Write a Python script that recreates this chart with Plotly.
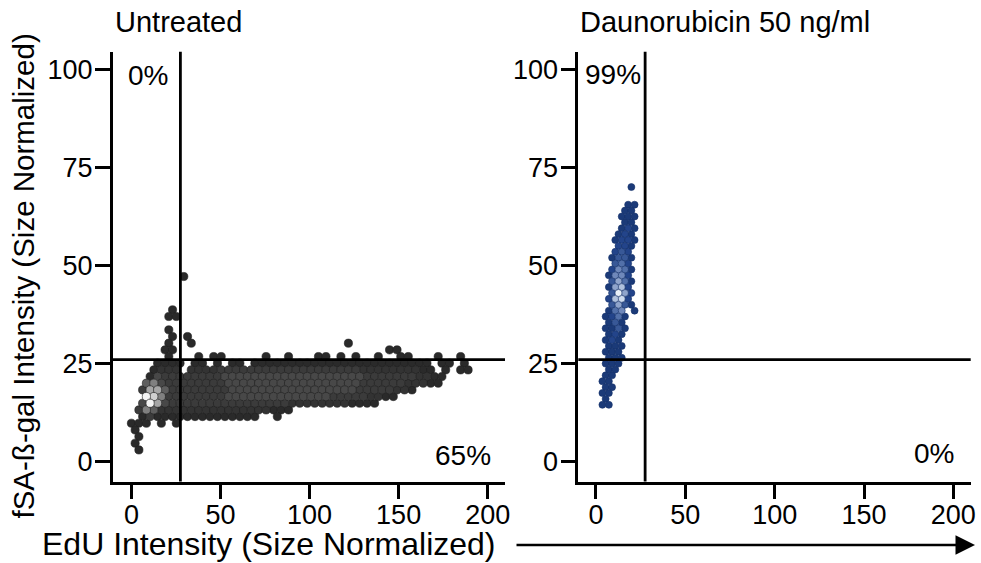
import plotly.graph_objects as go

# ---------------- data ----------------
x_ticks = [0, 50, 100, 150, 200]
y_ticks = [0, 25, 50, 75, 100]
panel_titles = ["Untreated", "Daunorubicin 50 ng/ml"]
x_title = "EdU Intensity (Size Normalized)"
y_title = "fSA-ß-gal Intensity (Size Normalized)"
edu_threshold = 27.5
sabgal_threshold = 26
untreated_pct = ["0%", "65%"]      # upper-left, lower-right quadrant
dauno_pct = ["99%", "0%"]

# hexbin geometry (bin width, row height, first column x, first row y)
untreated_bins = [4.2, 1.7, 0.0, 3.0]
dauno_bins = [3.6, 1.5, 0.0, 14.5]

# hexbin density levels (1 = few cells ... 9 = densest)
# top row first; odd rows (counted from bottom) are shifted by half a bin
untreated_grid = [
    "       1",
    "",
    "",
    "",
    "",
    "     1",
    "     11",
    "",
    "     1",
    "     1 1",
    "     1  1" + " " * 20 + "1",
    "    11" + " " * 28 + "11",
    "     1   1 11     1  1   11 1 1  1  11   1  1",
    "   1111 11 1 11 " + "1" * 24 + " 11 1",
    "   1222 " + "2222" + "3" * 19 + "2" * 8 + "11 1 11",
    "  1" + "4" + "3" * 8 + "4" * 19 + "3" * 7 + "22" + "11",
    "  " + "564" + "3" * 8 + "4" * 18 + "3" * 6 + "222" + "11",
    " " + "3775" + "3" * 8 + "4" * 17 + "3" * 5 + "22" + "1",
    "  " + "986" + "3" * 8 + "4" * 14 + "3" * 5 + "22" + "11",
    " " + "4974" + "3" * 16 + "2" * 8 + "1" * 4,
    " " + "365" + "2" * 15 + "111",
    " " + "13" + "1" * 14 + "  1",
    "111 1 1",
    "1",
    " 1",
    "1",
    " 1",
]

dauno_grid = [
    "     1",
    "",
    "",
    "     11",
    "    11",
    "    111",
    "    11",
    "    121",
    "   121",
    "   1221",
    "   221",
    "   232",
    "  1331",
    "   342",
    "  2541",
    "  1552",
    "  3641",
    "  1672",
    "  3962",
    "  2782",
    "  3631",
    "  145 1",
    " 1241",
    "  131",
    " 1131",
    "  121",
    " 121",
    "  111",
    " 111",
    "  111",
    " 111",
    "  11",
    " 11",
    " 11",
    " 11",
    " 11",
    " 1",
    " 11",
]

# ---------------- styles ----------------
gray_levels = ["#2a2a2a", "#333333", "#3b3b3b", "#484848", "#5e5e5e",
               "#808080", "#a6a6a6", "#cfcfcf", "#f4f4f4"]
blue_levels = ["#1b3a78", "#23448a", "#385897", "#5270a9", "#6f88ba",
               "#8fa4cb", "#b0c1dd", "#cedbee", "#eaf1f9"]
FONT = "Liberation Sans, Arial, sans-serif"


def grid_cells(grid, bins):
    dx, dy, x0, y0 = bins
    xs, ys, lv = [], [], []
    n = len(grid)
    for k, row in enumerate(grid):
        j = n - 1 - k
        off = dx / 2 if j % 2 == 1 else 0.0
        for i, ch in enumerate(row):
            if ch != " ":
                xs.append(x0 + off + i * dx)
                ys.append(y0 + j * dy)
                lv.append(int(ch))
    return xs, ys, lv


fig = go.Figure()

for grid, bins, pal, size, edge, xa, ya in [
    (untreated_grid, untreated_bins, gray_levels, 8.2, "#1e1e1e", "x", "y"),
    (dauno_grid, dauno_bins, blue_levels, 7.0, "#14306a", "x2", "y2"),
]:
    xs, ys, lv = grid_cells(grid, bins)
    order = sorted(range(len(lv)), key=lambda q: lv[q])
    fig.add_trace(go.Scatter(
        x=[xs[q] for q in order], y=[ys[q] for q in order], mode="markers",
        xaxis=xa, yaxis=ya, hoverinfo="skip", showlegend=False,
        marker=dict(symbol="circle", size=size,
                    color=[pal[lv[q] - 1] for q in order],
                    line=dict(width=0.6, color=edge)),
    ))

W, H = 981, 563
x1_dom = [112.7 / W, 505.0 / W]
x2_dom = [578.3 / W, 970.7 / W]
y_dom = [(H - 481.5) / H, (H - 51.7) / H]

axis_common = dict(showline=True, linewidth=2.6, linecolor="black",
                   ticks="outside", ticklen=15, tickwidth=2.6, tickcolor="black",
                   showgrid=False, zeroline=False, automargin=False,
                   tickfont=dict(family=FONT, size=27, color="black"))

fig.update_layout(
    width=W, height=H, autosize=False,
    margin=dict(l=0, r=0, t=0, b=0, pad=0),
    paper_bgcolor="white", plot_bgcolor="white",
    xaxis=dict(domain=x1_dom, range=[-10.5, 209.7], tickvals=x_ticks,
               anchor="y", ticklabelstandoff=-8, **axis_common),
    yaxis=dict(domain=y_dom, range=[-5.05, 104.5], tickvals=y_ticks,
               anchor="x", ticklabelstandoff=-3, **axis_common),
    xaxis2=dict(domain=x2_dom, range=[-9.9, 209.7], tickvals=x_ticks,
                anchor="y2", ticklabelstandoff=-8, **axis_common),
    yaxis2=dict(domain=y_dom, range=[-5.05, 104.5], tickvals=y_ticks,
                anchor="x2", ticklabelstandoff=-3, **axis_common),
)

shapes = []
for xa, ya in [("x", "y"), ("x2", "y2")]:
    shapes.append(dict(type="line", xref=xa, yref=ya + " domain",
                       x0=edu_threshold, x1=edu_threshold, y0=0, y1=1,
                       line=dict(color="black", width=2.8), layer="above"))
    shapes.append(dict(type="line", xref=xa + " domain", yref=ya,
                       x0=0, x1=1, y0=sabgal_threshold, y1=sabgal_threshold,
                       line=dict(color="black", width=2.8), layer="above"))
fig.update_layout(shapes=shapes)

ann = []
pct_font = dict(family=FONT, size=28, color="black")
ann.append(dict(xref="x", yref="y", x=9.4, y=98.5, text=untreated_pct[0],
                showarrow=False, font=pct_font))
ann.append(dict(xref="x", yref="y", x=185.9, y=1.5, text=untreated_pct[1],
                showarrow=False, font=pct_font))
ann.append(dict(xref="x2", yref="y2", x=9.5, y=98.8, text=dauno_pct[0],
                showarrow=False, font=pct_font))
ann.append(dict(xref="x2", yref="y2", x=189, y=2.0, text=dauno_pct[1],
                showarrow=False, font=pct_font))

title_font = dict(family=FONT, size=29, color="black")
ann.append(dict(xref="x domain", yref="paper", x=0, y=(H - 22) / H,
                xanchor="left", yanchor="middle", text=panel_titles[0],
                showarrow=False, font=title_font))
ann.append(dict(xref="x2 domain", yref="paper", x=0, y=(H - 22) / H,
                xanchor="left", yanchor="middle", text=panel_titles[1],
                showarrow=False, font=title_font))

ann.append(dict(xref="paper", yref="paper", x=22.5 / W, y=(H - 276) / H,
                text=y_title, textangle=-90, showarrow=False,
                font=dict(family=FONT, size=29.5, color="black"),
                xanchor="center", yanchor="middle"))
ann.append(dict(xref="paper", yref="paper", x=268 / W, y=(H - 544) / H,
                text=x_title, showarrow=False,
                font=dict(family=FONT, size=32, color="black"),
                xanchor="center", yanchor="middle"))
ann.append(dict(xref="paper", yref="paper", x=975 / W, y=(H - 545) / H,
                ax=-460, ay=0, text="", showarrow=True, arrowhead=2,
                arrowwidth=2.6, arrowsize=1.5, arrowcolor="black"))
fig.update_layout(annotations=ann)

fig.write_html("out.html",
               config={"displayModeBar": False},
               post_script="document.body.style.margin='0px';"
                           "document.body.style.padding='0px';")
